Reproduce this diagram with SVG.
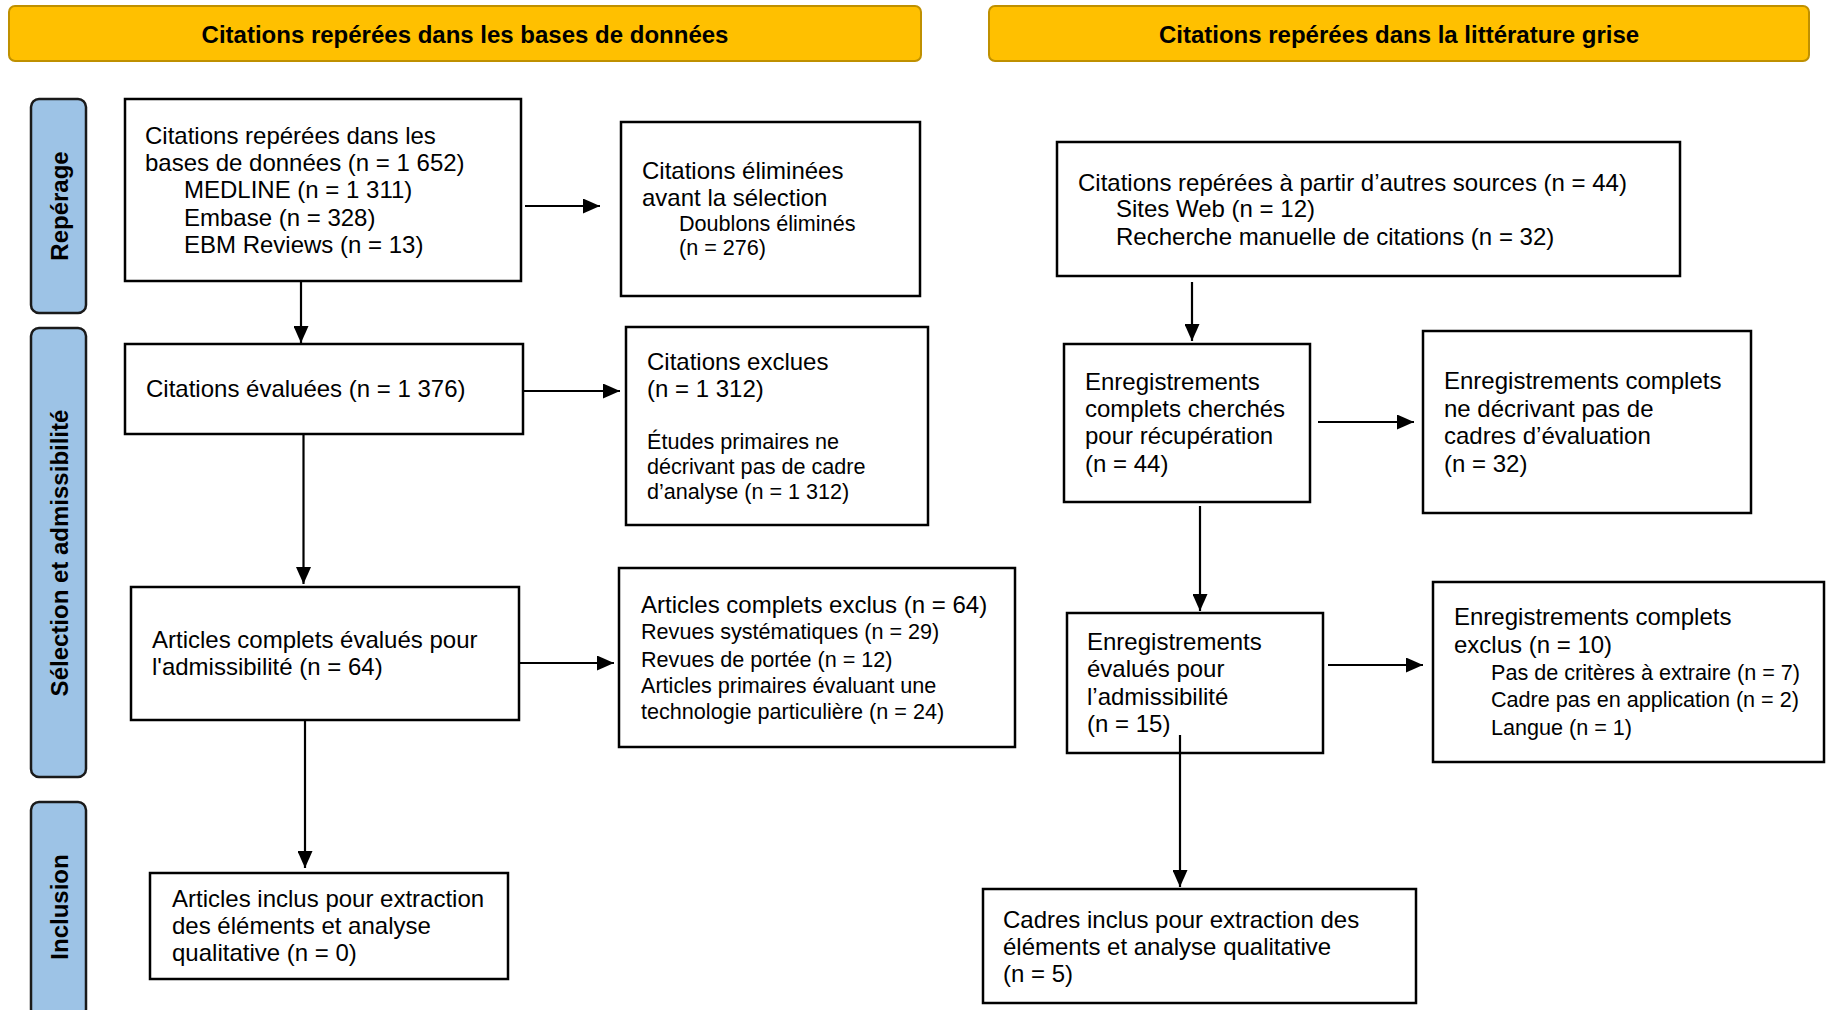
<svg xmlns="http://www.w3.org/2000/svg" width="1828" height="1010" viewBox="0 0 1828 1010">
<style>
.hdr{fill:#FFC000;stroke:#BF9000;stroke-width:2}
.side{fill:#9DC3E6;stroke:#1a1a1a;stroke-width:2.5}
.box{fill:#fff;stroke:#000;stroke-width:2.5}
.ht{font-family:"Liberation Sans",Arial,sans-serif;font-weight:bold;font-size:24px;fill:#000}
.st{font-family:"Liberation Sans",Arial,sans-serif;font-weight:bold;font-size:24px;fill:#000}
.t{font-family:"Liberation Sans",Arial,sans-serif;font-size:24px;fill:#000}
.s{font-family:"Liberation Sans",Arial,sans-serif;font-size:21.6px;fill:#000}
.c{fill:none;stroke:#000;stroke-width:2.2}
</style>
<defs>
<marker id="ah" markerUnits="userSpaceOnUse" markerWidth="17" markerHeight="15" refX="17" refY="7.5" orient="auto">
<path d="M0,0 L17,7.5 L0,15 z" fill="#000"/>
</marker>
</defs>
<rect width="1828" height="1010" fill="#fff"/>

<g id="header-bases">
<rect class="hdr" x="9" y="6" width="912" height="55" rx="6"/>
<text class="ht" x="465" y="43" text-anchor="middle">Citations repérées dans les bases de données</text>
</g>
<g id="header-grise">
<rect class="hdr" x="989" y="6" width="820" height="55" rx="6"/>
<text class="ht" x="1399" y="43" text-anchor="middle">Citations repérées dans la littérature grise</text>
</g>

<g id="side-reperage">
<rect class="side" x="31" y="99" width="55" height="214" rx="8"/>
<text class="st" transform="translate(68,206) rotate(-90)" text-anchor="middle">Repérage</text>
</g>
<g id="side-selection">
<rect class="side" x="31" y="328" width="55" height="449" rx="8"/>
<text class="st" transform="translate(68,553) rotate(-90)" text-anchor="middle">Sélection et admissibilité</text>
</g>
<g id="side-inclusion">
<rect class="side" x="31" y="802" width="55" height="215" rx="8"/>
<text class="st" transform="translate(68,907) rotate(-90)" text-anchor="middle">Inclusion</text>
</g>

<g id="box-identified">
<rect class="box" x="125" y="99" width="396" height="182"/>
<text class="t" x="145" y="144">Citations repérées dans les</text>
<text class="t" x="145" y="171">bases de données (n = 1 652)</text>
<text class="t" x="184" y="198">MEDLINE (n = 1 311)</text>
<text class="t" x="184" y="226">Embase (n = 328)</text>
<text class="t" x="184" y="253">EBM Reviews (n = 13)</text>
</g>
<g id="box-removed">
<rect class="box" x="621" y="122" width="299" height="174"/>
<text class="t" x="642" y="179">Citations éliminées</text>
<text class="t" x="642" y="206">avant la sélection</text>
<text class="s" x="679" y="231">Doublons éliminés</text>
<text class="s" x="679" y="255">(n = 276)</text>
</g>
<g id="box-screened">
<rect class="box" x="125" y="344" width="398" height="90"/>
<text class="t" x="146" y="397">Citations évaluées (n = 1 376)</text>
</g>
<g id="box-excluded">
<rect class="box" x="626" y="327" width="302" height="198"/>
<text class="t" x="647" y="370">Citations exclues</text>
<text class="t" x="647" y="397">(n = 1 312)</text>
<text class="s" x="647" y="449">Études primaires ne</text>
<text class="s" x="647" y="474">décrivant pas de cadre</text>
<text class="s" x="647" y="499">d’analyse (n = 1 312)</text>
</g>
<g id="box-fulltext">
<rect class="box" x="131" y="587" width="388" height="133"/>
<text class="t" x="152" y="648">Articles complets évalués pour</text>
<text class="t" x="152" y="675">l'admissibilité (n = 64)</text>
</g>
<g id="box-fulltext-excluded">
<rect class="box" x="619" y="568" width="396" height="179"/>
<text class="t" x="641" y="613">Articles complets exclus (n = 64)</text>
<text class="s" x="641" y="639">Revues systématiques (n = 29)</text>
<text class="s" x="641" y="667">Revues de portée (n = 12)</text>
<text class="s" x="641" y="693">Articles primaires évaluant une</text>
<text class="s" x="641" y="719">technologie particulière (n = 24)</text>
</g>
<g id="box-included">
<rect class="box" x="150" y="873" width="358" height="106"/>
<text class="t" x="172" y="907">Articles inclus pour extraction</text>
<text class="t" x="172" y="934">des éléments et analyse</text>
<text class="t" x="172" y="961">qualitative (n = 0)</text>
</g>

<g id="box-other-sources">
<rect class="box" x="1057" y="142" width="623" height="134"/>
<text class="t" x="1078" y="191">Citations repérées à partir d’autres sources (n = 44)</text>
<text class="t" x="1116" y="217">Sites Web (n = 12)</text>
<text class="t" x="1116" y="245">Recherche manuelle de citations (n = 32)</text>
</g>
<g id="box-sought">
<rect class="box" x="1064" y="344" width="246" height="158"/>
<text class="t" x="1085" y="390">Enregistrements</text>
<text class="t" x="1085" y="417">complets cherchés</text>
<text class="t" x="1085" y="444">pour récupération</text>
<text class="t" x="1085" y="472">(n = 44)</text>
</g>
<g id="box-not-describing">
<rect class="box" x="1423" y="331" width="328" height="182"/>
<text class="t" x="1444" y="389">Enregistrements complets</text>
<text class="t" x="1444" y="417">ne décrivant pas de</text>
<text class="t" x="1444" y="444">cadres d’évaluation</text>
<text class="t" x="1444" y="472">(n = 32)</text>
</g>
<g id="box-assessed">
<rect class="box" x="1067" y="613" width="256" height="140"/>
<text class="t" x="1087" y="650">Enregistrements</text>
<text class="t" x="1087" y="677">évalués pour</text>
<text class="t" x="1087" y="705">l’admissibilité</text>
<text class="t" x="1087" y="732">(n = 15)</text>
</g>
<g id="box-records-excluded">
<rect class="box" x="1433" y="582" width="391" height="180"/>
<text class="t" x="1454" y="625">Enregistrements complets</text>
<text class="t" x="1454" y="653">exclus (n = 10)</text>
<text class="s" x="1491" y="680">Pas de critères à extraire (n = 7)</text>
<text class="s" x="1491" y="707">Cadre pas en application (n = 2)</text>
<text class="s" x="1491" y="735">Langue (n = 1)</text>
</g>
<g id="box-frameworks-included">
<rect class="box" x="983" y="889" width="433" height="114"/>
<text class="t" x="1003" y="928">Cadres inclus pour extraction des</text>
<text class="t" x="1003" y="955">éléments et analyse qualitative</text>
<text class="t" x="1003" y="982">(n = 5)</text>
</g>

<g id="connectors">
<path class="c" d="M525,206 H600" marker-end="url(#ah)"/>
<path class="c" d="M301,281 V343" marker-end="url(#ah)"/>
<path class="c" d="M524,391 H620" marker-end="url(#ah)"/>
<path class="c" d="M303.5,434 V584" marker-end="url(#ah)"/>
<path class="c" d="M519,663 H614" marker-end="url(#ah)"/>
<path class="c" d="M305,720 V868" marker-end="url(#ah)"/>
<path class="c" d="M1192,282 V341" marker-end="url(#ah)"/>
<path class="c" d="M1318,422 H1414" marker-end="url(#ah)"/>
<path class="c" d="M1200,506 V611" marker-end="url(#ah)"/>
<path class="c" d="M1328,665 H1423" marker-end="url(#ah)"/>
<path class="c" d="M1180,735 V887" marker-end="url(#ah)"/>
</g>
</svg>
